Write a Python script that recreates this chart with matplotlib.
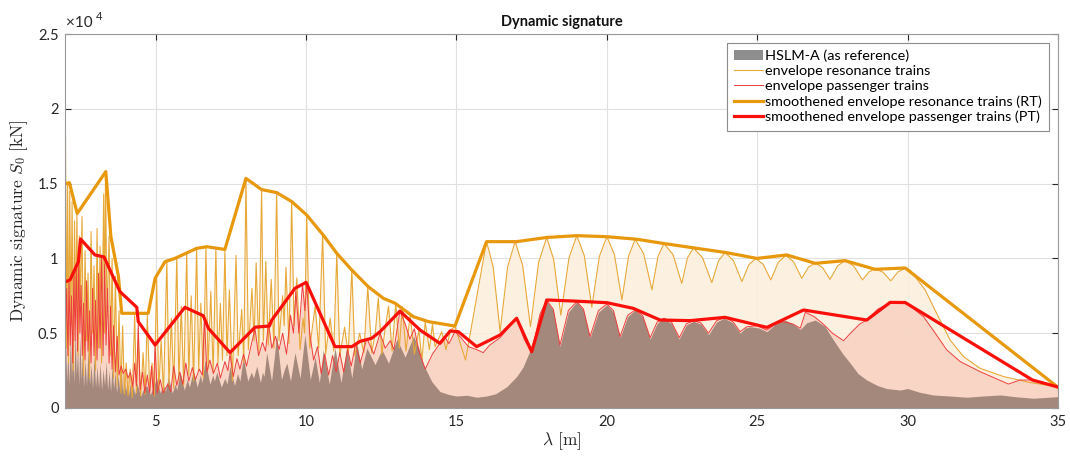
import numpy as np
import matplotlib
matplotlib.use("Agg")
import matplotlib.pyplot as plt
from matplotlib.patches import Patch

plt.rcParams['font.family'] = ['Lato', 'DejaVu Sans']
plt.rcParams['mathtext.fontset'] = 'cm'

KN = 1000.0   # values below are in 10^3 kN

# HSLM-A reference signature
hslm_x = [2.00, 2.04, 2.08, 2.12, 2.16, 2.20, 2.24, 2.28, 2.32, 2.36, 2.40, 2.44, 2.48, 2.52, 2.56, 2.60,
          2.65, 2.70, 2.75, 2.80, 2.85, 2.90, 2.95, 3.00, 3.05, 3.10, 3.15, 3.20, 3.25, 3.30, 3.35, 3.40,
          3.45, 3.50, 3.55, 3.60, 3.65, 3.70, 3.75, 3.80, 3.85, 3.90, 3.95, 4.00, 4.05, 4.10, 4.15, 4.20,
          4.25, 4.30, 4.37, 4.50, 4.60, 4.70, 4.82, 4.92, 5.03, 5.15, 5.25, 5.32, 5.42, 5.55, 5.65, 5.70,
          5.81, 5.95, 6.05, 6.12, 6.25, 6.38, 6.48, 6.54, 6.64, 6.80, 6.90, 6.95, 7.03, 7.18, 7.30, 7.37,
          7.47, 7.62, 7.72, 7.80, 7.91, 8.06, 8.18, 8.25, 8.36, 8.48, 8.55, 8.60, 8.69, 8.85, 8.95, 9.02,
          9.18, 9.28, 9.36, 9.48, 9.63, 9.80, 9.96, 10.14, 10.30, 10.44, 10.57, 10.77, 10.96, 11.16, 11.35,
          11.52, 11.68, 11.85, 12.02, 12.29, 12.52, 12.74, 13.02, 13.29, 13.57, 13.75, 13.90, 14.18, 14.45,
          14.75, 15.00, 15.35, 15.67, 16.00, 16.30, 16.67, 17.00, 17.22, 17.50, 17.78, 18.00, 18.22, 18.44,
          18.72, 19.00, 19.22, 19.44, 19.72, 20.00, 20.22, 20.44, 20.69, 20.94, 21.19, 21.44, 21.67, 21.88,
          22.15, 22.40, 22.64, 22.88, 23.13, 23.38, 23.65, 23.90, 24.18, 24.43, 24.60, 24.77, 25.05, 25.32,
          25.60, 25.93, 26.20, 26.43, 26.65, 26.93, 27.25, 27.53, 27.85, 28.09, 28.35, 28.64, 29.00, 29.30,
          29.75, 30.00, 30.40, 30.85, 31.40, 31.97, 32.50, 33.08, 33.60, 34.18, 35.00]
hslm_y = [4.6, 1.8, 3.9, 1.5, 5.0, 2.0, 4.4, 1.6, 5.2, 2.2, 4.0, 1.5, 4.8, 1.9, 3.6, 1.4,
          3.2, 1.5, 4.0, 1.6, 2.9, 1.3, 3.5, 1.4, 2.8, 1.3, 3.0, 1.2, 2.6, 1.5, 3.1, 1.2,
          2.5, 1.1, 2.8, 1.3, 2.4, 1.0, 2.2, 1.2, 2.6, 1.0, 2.0, 1.1, 1.8, 0.9, 1.6, 1.0,
          1.5, 0.9, 1.67, 0.8, 1.3, 1.5, 0.9, 1.4, 2.0, 1.0, 1.6, 1.1, 2.1, 1.0, 1.6, 1.2,
          2.4, 1.2, 1.9, 1.4, 2.5, 1.4, 2.2, 1.7, 3.2, 1.6, 2.2, 1.8, 2.4, 1.4, 2.0, 1.6,
          2.8, 1.5, 2.3, 1.8, 3.4, 1.8, 2.4, 2.0, 2.8, 1.7, 2.4, 2.1, 3.7, 1.8, 3.5, 4.9,
          1.9, 2.6, 3.0, 1.8, 3.7, 2.0, 4.9, 1.9, 3.4, 1.7, 3.9, 1.6, 4.0, 1.7, 4.1,
          2.0, 4.4, 2.6, 4.0, 2.9, 3.9, 3.0, 4.6, 3.4, 4.8, 4.0, 2.9, 1.76, 1.1,
          0.9, 0.8, 0.85, 0.72, 0.8, 0.95, 1.42, 2.1, 2.76, 4.1, 6.3, 7.15, 6.5, 4.1,
          6.4, 7.1, 6.55, 4.7, 6.4, 6.9, 6.4, 4.7, 6.1, 6.55, 6.1, 4.6, 5.65, 6.0,
          5.65, 4.6, 5.55, 5.8, 5.6, 4.9, 5.75, 6.0, 5.7, 5.0, 5.35, 5.43, 5.35, 5.1,
          5.6, 5.88, 5.6, 5.25, 5.7, 5.88, 5.45, 4.55, 3.6, 3.0, 2.3, 1.87, 1.5, 1.3,
          1.2, 1.3, 1.05, 0.87, 0.8, 0.72, 0.8, 0.87, 0.75, 0.65, 0.76]

# envelope resonance trains
rt_x = [2.00, 2.03, 2.07, 2.10, 2.14, 2.18, 2.22, 2.26, 2.30, 2.34, 2.38, 2.42, 2.46, 2.50, 2.55, 2.60,
        2.65, 2.70, 2.75, 2.80, 2.85, 2.90, 2.95, 3.00, 3.05, 3.10, 3.15, 3.20, 3.27, 3.30, 3.33, 3.38,
        3.45, 3.50, 3.55, 3.60, 3.66, 3.72, 3.78, 3.84, 3.90, 3.96, 4.02, 4.08, 4.15, 4.22, 4.30, 4.36,
        4.42, 4.50, 4.58, 4.65, 4.72, 4.80, 4.88, 4.95,
        5.03, 5.10, 5.18, 5.26, 5.37, 5.44, 5.52, 5.60, 5.70, 5.77, 5.85, 5.93, 6.03, 6.10, 6.18, 6.26,
        6.36, 6.43, 6.50, 6.58, 6.67, 6.74, 6.83, 6.91, 7.00, 7.07, 7.15, 7.22, 7.30, 7.37, 7.45, 7.55,
        7.67, 7.74, 7.86, 7.93,
        8.00, 8.08, 8.20, 8.27, 8.34, 8.43, 8.52, 8.58, 8.66, 8.74, 8.84, 8.93, 9.02, 9.10, 9.22, 9.27,
        9.33, 9.43, 9.52, 9.60, 9.69, 9.80, 9.90, 9.95, 10.02, 10.12, 10.30, 10.42, 10.55, 10.65, 10.80,
        10.92, 11.02, 11.12, 11.28, 11.40, 11.52, 11.62, 11.78, 11.92, 12.05, 12.18, 12.30, 12.40, 12.52,
        12.62, 12.74, 12.86, 12.98, 13.10, 13.20, 13.32, 13.46, 13.60, 13.75, 13.85, 13.96, 14.10, 14.20,
        14.29, 14.51, 14.65, 14.80, 14.95, 15.30,
        16.00, 16.22, 16.45, 16.70, 16.95, 17.20, 17.46, 17.73, 18.00, 18.23, 18.47, 18.74, 19.00, 19.25,
        19.50, 19.75, 20.00, 20.25, 20.50, 20.72, 20.94, 21.22, 21.50, 21.70, 21.90, 22.20, 22.49, 22.68,
        22.88, 23.18, 23.49, 23.71, 23.93, 24.21, 24.49, 24.72, 24.95, 25.20, 25.45, 25.70, 25.95, 26.21,
        26.48, 26.70, 26.93, 27.17, 27.42, 27.67, 27.92, 28.21, 28.50, 28.71, 28.92, 29.18, 29.44, 29.68,
        29.92, 30.08, 30.58, 31.02, 31.41, 31.86, 32.41, 33.19, 34.07, 35.00]
rt_y = [18.3, 4.0, 15.0, 3.0, 14.5, 5.5, 13.8, 2.5, 12.5, 6.0, 13.0, 3.5, 11.5, 7.0, 12.8, 2.2,
        10.5, 4.5, 9.0, 2.0, 11.8, 5.0, 9.5, 2.5, 12.0, 4.0, 10.8, 3.0, 14.3, 5.0, 15.7, 6.0,
        11.5, 3.5, 10.0, 2.0, 8.8, 1.5, 6.5, 1.0, 5.5, 0.9, 3.0, 0.8, 2.6, 0.7, 6.2, 1.0,
        4.5, 0.8, 3.7, 0.9, 6.2, 1.2, 3.0, 0.8,
        8.7, 1.2, 4.5, 1.0, 9.9, 1.5, 6.0, 1.3, 10.1, 1.8, 6.8, 1.5, 10.4, 2.2, 7.5, 1.8,
        10.67, 2.5, 7.0, 2.0, 10.78, 2.6, 7.8, 2.4, 10.7, 3.0, 7.0, 3.2, 10.55, 3.5, 7.9, 1.8,
        10.2, 3.5, 6.6, 3.0,
        15.35, 3.9, 8.0, 4.5, 9.7, 3.8, 14.6, 4.5, 9.8, 4.2, 8.6, 4.0, 14.4, 4.5, 7.5, 5.5,
        9.4, 4.3, 13.8, 5.5, 8.7, 3.9, 6.0, 5.0, 12.9, 4.0, 6.8, 4.0, 11.6, 3.6, 6.0,
        3.8, 10.34, 3.5, 5.4, 3.6, 9.22, 3.5, 5.0, 3.7, 8.1, 3.7, 5.0, 7.35, 3.6,
        5.2, 6.8, 3.8, 7.0, 4.0, 6.77, 3.8, 6.2, 3.6, 5.2, 3.2, 5.75, 3.9, 5.6,
        4.1, 5.1, 3.9, 5.2, 5.45, 3.2,
        11.12, 9.43, 5.1, 9.43, 11.12, 9.53, 5.43, 9.73, 11.4, 9.94, 6.2, 10.03, 11.52, 10.18,
        6.73, 10.13, 11.45, 10.27, 7.22, 10.14, 11.28, 10.33, 7.9, 10.13, 11.0, 10.25, 8.33, 10.04,
        10.7, 10.05, 8.38, 9.83, 10.4, 9.85, 8.45, 9.57, 10.0, 9.6, 8.56, 9.74, 10.2, 9.77,
        8.67, 9.41, 9.7, 9.39, 8.6, 9.5, 9.85, 9.49, 8.56, 9.09, 9.3, 9.08, 8.5, 9.1,
        9.34, 9.22, 7.9, 6.1, 4.55, 3.43, 2.65, 2.1, 1.7, 1.42]

# envelope passenger trains
pt_x = [2.00, 2.04, 2.08, 2.12, 2.16, 2.20, 2.24, 2.28, 2.32, 2.36, 2.40, 2.44, 2.48, 2.52, 2.56, 2.60,
        2.65, 2.70, 2.75, 2.80, 2.85, 2.90, 2.95, 3.00, 3.05, 3.10, 3.15, 3.20, 3.25, 3.30, 3.35, 3.40,
        3.45, 3.50, 3.55, 3.60, 3.66, 3.72, 3.78, 3.85, 3.92, 4.00, 4.08, 4.16, 4.24, 4.30, 4.36, 4.42,
        4.48, 4.56, 4.64, 4.72, 4.80, 4.86, 4.92, 4.98, 5.05, 5.15, 5.25, 5.40, 5.50, 5.60, 5.70, 5.80,
        5.90, 6.00, 6.10, 6.22, 6.32, 6.45, 6.55, 6.62, 6.70, 6.80, 6.92, 7.05, 7.15, 7.30, 7.40, 7.47,
        7.58, 7.70, 7.80, 7.92, 8.02, 8.15, 8.30, 8.42, 8.55, 8.65, 8.75, 8.86, 8.98, 9.10, 9.22, 9.35,
        9.48, 9.58, 9.66, 9.76, 9.88, 9.96, 10.02, 10.12, 10.25, 10.38, 10.50, 10.62, 10.75, 10.88, 11.00,
        11.12, 11.25, 11.38, 11.50, 11.65, 11.80, 12.02, 12.25, 12.46, 12.63, 12.80, 12.92, 13.12, 13.30,
        13.45, 13.60, 13.75, 13.96, 14.20, 14.45, 14.60, 14.75, 14.95, 15.15, 15.40, 15.67, 15.89, 16.10,
        16.45, 16.75, 17.00, 17.25, 17.50, 17.78, 18.00, 18.22, 18.44, 18.72, 19.00, 19.22, 19.44, 19.72,
        20.00, 20.22, 20.44, 20.69, 20.94, 21.19, 21.44, 21.67, 21.90, 22.15, 22.41, 22.64, 22.88, 23.13,
        23.38, 23.65, 23.93, 24.20, 24.43, 24.65, 25.00, 25.32, 25.60, 25.87, 26.20, 26.43, 26.60, 26.90,
        27.20, 27.50, 27.87, 28.10, 28.40, 28.64, 29.00, 29.42, 29.92, 30.53, 30.92, 31.30, 31.75, 32.41,
        33.35, 33.74, 34.13, 35.00]
pt_y = [4.8, 8.0, 3.5, 8.4, 4.2, 7.5, 3.0, 9.0, 4.5, 9.5, 3.8, 9.8, 5.0, 8.2, 3.5, 7.0,
        3.2, 8.5, 3.8, 6.5, 3.0, 8.0, 3.5, 7.2, 3.2, 9.0, 4.0, 10.1, 3.5, 9.6, 4.2, 8.0,
        3.0, 6.8, 2.6, 5.5, 2.4, 4.8, 2.2, 2.8, 2.3, 2.6, 2.0, 2.4, 1.4, 3.0, 1.5, 5.6,
        1.2, 2.4, 1.0, 2.2, 1.0, 2.8, 0.9, 4.2, 1.0, 1.9, 1.0, 1.6, 1.1, 2.8, 1.5, 2.4,
        1.6, 3.0, 1.8, 2.7, 1.9, 2.6, 2.2, 6.1, 2.4, 3.2, 2.3, 3.0, 2.0, 3.1, 2.5, 3.6,
        2.1, 3.3, 2.6, 3.6, 2.8, 4.0, 5.3, 3.5, 4.4, 3.8, 5.7, 4.0, 4.8, 3.9, 5.0, 3.6,
        6.2, 5.0, 7.8, 5.0, 8.3, 6.5, 8.3, 5.0, 3.2, 4.1, 2.3, 3.6, 2.2, 3.5, 2.4,
        3.7, 2.4, 3.9, 2.8, 4.3, 3.0, 4.66, 3.6, 5.0, 4.0, 4.5, 3.9, 6.48, 5.6,
        4.6, 5.3, 3.8, 2.6, 3.6, 4.32, 4.8, 4.3, 5.1, 4.7, 4.1, 3.9, 3.7, 4.2,
        4.7, 5.4, 6.0, 4.6, 3.7, 6.3, 7.2, 6.6, 4.2, 6.52, 7.1, 6.63, 4.77, 6.51,
        6.95, 6.51, 4.77, 6.19, 6.55, 6.18, 4.7, 5.74, 6.0, 5.74, 4.7, 5.62, 5.85, 5.68,
        5.0, 5.84, 6.05, 5.75, 5.1, 5.43, 5.5, 5.2, 5.6, 5.77, 5.6, 5.33, 6.4, 6.1,
        5.6, 5.0, 4.5, 5.0, 5.6, 5.88, 6.6, 7.04, 7.07, 6.1, 5.0, 3.88, 3.1, 2.43,
        1.6, 1.87, 1.87, 1.42]

# smoothened envelopes
rt_s_x = [2.00, 2.13, 2.39, 3.34, 3.51, 3.76, 3.87, 4.75, 4.98, 5.31, 5.64, 6.36, 6.70, 7.30, 8.00,
          8.52, 9.02, 9.52, 10.02, 10.57, 11.02, 11.52, 12.07, 12.57, 12.96, 13.57, 14.07, 14.95, 16.00,
          17.00, 18.00, 19.00, 20.00, 21.00, 21.88, 22.90, 23.93, 24.99, 25.98, 26.93, 27.92, 28.92,
          29.92, 35.00]
rt_s_y = [15.0, 15.06, 13.0, 15.8, 11.45, 8.8, 6.33, 6.33, 8.67, 9.78, 10.0, 10.67, 10.78, 10.6, 15.35,
          14.6, 14.4, 13.8, 12.9, 11.56, 10.34, 9.22, 8.1, 7.33, 7.0, 6.1, 5.77, 5.48, 11.12,
          11.12, 11.4, 11.52, 11.45, 11.28, 11.0, 10.7, 10.4, 10.0, 10.23, 9.67, 9.85, 9.27,
          9.36, 1.38]
pt_s_x = [2.00, 2.15, 2.43, 2.50, 2.98, 3.28, 3.81, 4.37, 4.42, 4.98, 5.97, 6.58, 6.75, 7.47, 8.30,
          8.78, 8.86, 9.63, 10.00, 10.96, 11.52, 11.79, 12.18, 12.46, 13.12, 13.79, 14.45, 14.79, 15.06,
          15.67, 16.45, 17.00, 17.50, 18.00, 18.89, 20.00, 20.88, 21.77, 22.77, 23.93, 25.32, 26.54,
          28.64, 29.42, 29.92, 34.15, 35.00]
pt_s_y = [8.44, 8.56, 9.78, 11.3, 10.23, 10.1, 7.78, 6.73, 5.77, 4.21, 6.73, 6.17, 5.33, 3.7, 5.4,
          5.48, 5.88, 8.0, 8.4, 4.1, 4.1, 4.45, 4.66, 5.1, 6.48, 5.21, 4.32, 5.15, 5.1,
          4.1, 4.88, 6.0, 3.76, 7.22, 7.15, 7.04, 6.66, 5.88, 5.84, 6.06, 5.39, 6.55,
          5.88, 7.06, 7.05, 1.87, 1.4]

y_ticks = [0, 5000, 10000, 15000, 20000, 25000]
y_tick_labels = ['0', '0.5', '1', '1.5', '2', '2.5']
x_ticks = [5, 10, 15, 20, 25, 30, 35]

c_cream = '#fcefdc'
c_pink = '#f8d2c2'
c_brown = '#a4887c'
c_or_thin = '#e8a838'
c_or_thick = '#e8980c'
c_red_thin = '#ee3d3d'
c_red_thick = '#fa0f0a'

fig = plt.figure(figsize=(10.7, 4.61), dpi=100)
ax = fig.add_axes([0.0612, 0.115, 0.9276, 0.8112])

hx, hy = np.array(hslm_x), np.array(hslm_y) * KN
rx, ry = np.array(rt_x), np.array(rt_y) * KN
px, py = np.array(pt_x), np.array(pt_y) * KN

# grid sits under the light fills (they are slightly see-through), brown hides it
ax.fill_between(rx, 0, ry, color=c_cream, alpha=0.85, lw=0, zorder=1)
ax.fill_between(px, 0, py, color=c_pink, alpha=0.88, lw=0, zorder=1.5)
ax.fill_between(hx, 0, hy, color=c_brown, lw=0, zorder=2)

ax.plot(rx, ry, color=c_or_thin, lw=0.8, zorder=3)
ax.plot(px, py, color=c_red_thin, lw=0.7, zorder=3.2)
ax.plot(rt_s_x, np.array(rt_s_y) * KN, color=c_or_thick, lw=2.3, zorder=4)
ax.plot(pt_s_x, np.array(pt_s_y) * KN, color=c_red_thick, lw=2.3, zorder=4.2)

ax.set_xlim(2, 35)
ax.set_ylim(0, 25000)
ax.set_xticks(x_ticks)
ax.set_yticks(y_ticks)
ax.set_yticklabels(y_tick_labels)
ax.set_axisbelow(True)
ax.grid(True, color='#e0e0e0', lw=0.8)
ax.tick_params(direction='in', top=True, right=True, length=4, width=0.8,
               colors='#262626', labelsize=10.5, pad=5)
for s in ax.spines.values():
    s.set_color('#999999')
    s.set_linewidth(0.8)
    s.set_zorder(5)

ax.text(0.001, 1.012, '\u00d710', transform=ax.transAxes, fontsize=11, color='#262626',
        ha='left', va='bottom')
ax.text(0.0305, 1.031, '4', transform=ax.transAxes, fontsize=8, color='#262626',
        ha='left', va='bottom')

ax.set_title('Dynamic signature', fontsize=10.5, fontweight='bold', color='#111111', pad=6)
ax.set_xlabel(r'$\lambda\ \mathrm{[m]}$', fontsize=12.5, color='#262626', labelpad=1)
ax.set_ylabel(r'$\mathrm{Dynamic\ signature\ }S_0\ \mathrm{[kN]}$', fontsize=12.5,
              color='#262626', labelpad=6)

handles = [Patch(facecolor='#8e8e8e', edgecolor='none'),
           plt.Line2D([], [], color=c_or_thin, lw=0.8),
           plt.Line2D([], [], color=c_red_thin, lw=0.7),
           plt.Line2D([], [], color=c_or_thick, lw=2.3),
           plt.Line2D([], [], color=c_red_thick, lw=2.3)]
labels = ['HSLM-A (as reference)', 'envelope resonance trains', 'envelope passenger trains',
          'smoothened envelope resonance trains (RT)', 'smoothened envelope passenger trains (PT)']
leg = ax.legend(handles, labels, loc='upper right', fontsize=10.4, frameon=True, fancybox=False,
                framealpha=1, edgecolor='#8c8c8c', borderaxespad=0.6, handlelength=2.0,
                handletextpad=0.15, labelspacing=0.2, borderpad=0.5)
leg.get_frame().set_linewidth(0.8)
leg.set_zorder(10)

fig.savefig('out.png', dpi=100)
